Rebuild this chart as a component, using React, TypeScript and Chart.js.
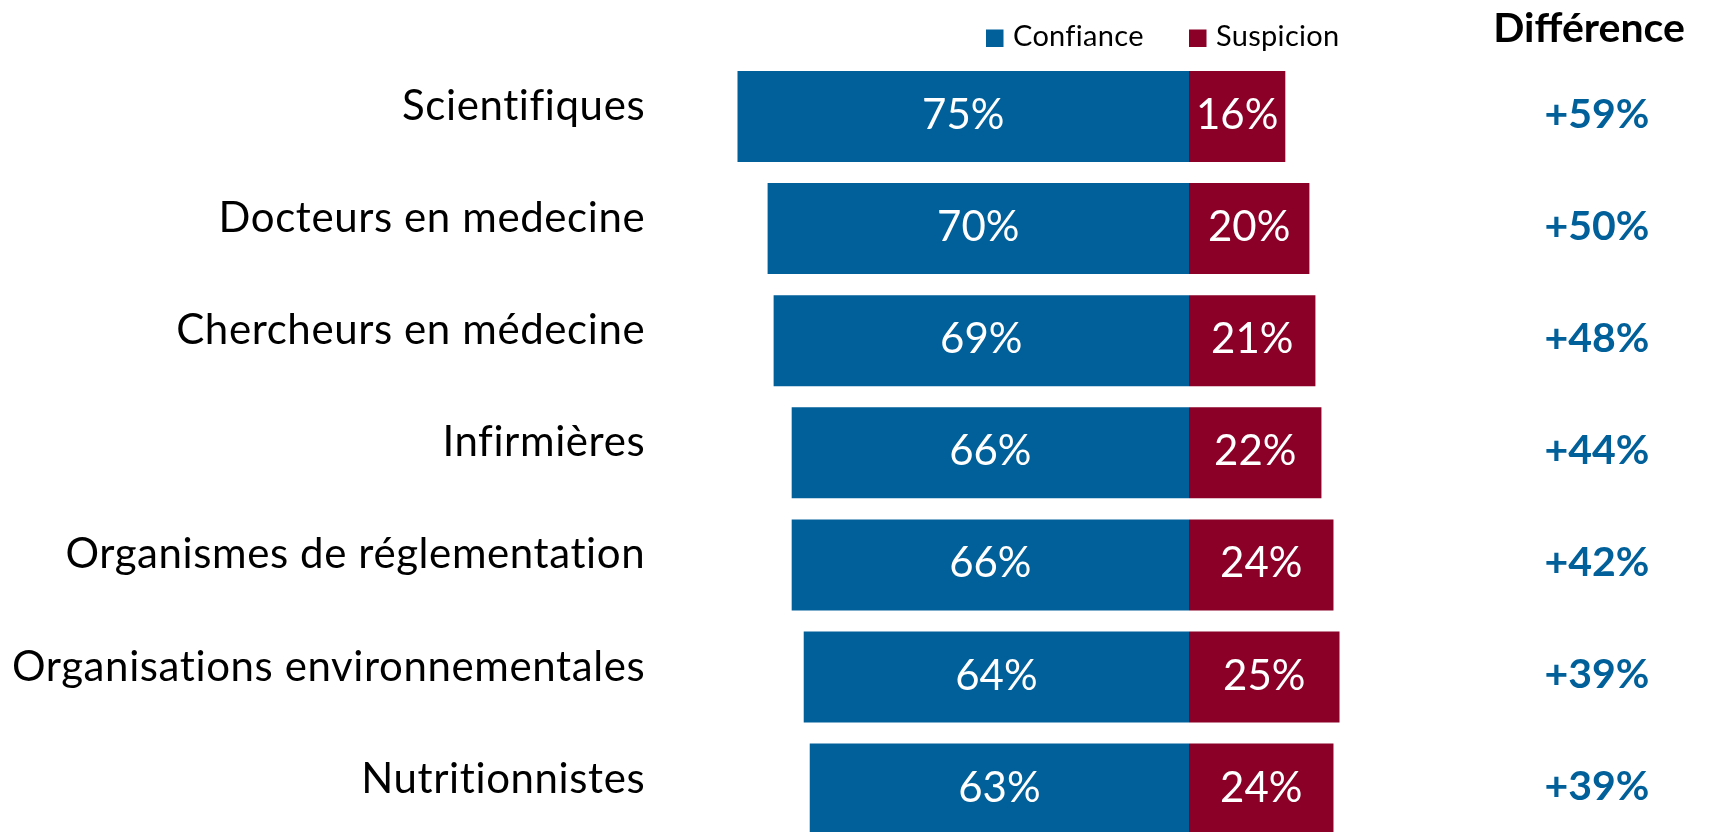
import { useEffect, useRef } from "react";
import { Chart, registerables } from "chart.js";

Chart.register(...registerables);

const categories = [
  "Scientifiques",
  "Docteurs en medecine",
  "Chercheurs en médecine",
  "Infirmières",
  "Organismes de réglementation",
  "Organisations environnementales",
  "Nutritionnistes",
];
const confiance = [75, 70, 69, 66, 66, 64, 63];
const suspicion = [16, 20, 21, 22, 24, 25, 24];
const differences = ["+59%", "+50%", "+48%", "+44%", "+42%", "+39%", "+39%"];
const seriesNames = ["Confiance", "Suspicion"];
const headerLabel = "Différence";

const BLUE = "#01609A";
const RED = "#8A0027";
const FONT = "Lato, 'Noto Sans', sans-serif";

export default function App() {
  const ref = useRef<HTMLCanvasElement>(null);

  useEffect(() => {
    const canvas = ref.current;
    if (!canvas) return;
    const rawValues = [confiance, suspicion];

    const spacing = {
      id: "spacing",
      beforeDraw(chart: any) {
        (chart.ctx as any).letterSpacing = "0.6px";
      },
    };

    const overlay = {
      id: "overlay",
      afterDatasetsDraw(chart: any) {
        const ctx = chart.ctx as CanvasRenderingContext2D;
        ctx.save();
        (ctx as any).letterSpacing = "0px";
        // value labels inside bars
        chart.data.datasets.forEach((_ds: any, di: number) => {
          const meta = chart.getDatasetMeta(di);
          meta.data.forEach((el: any, i: number) => {
            const p = el.getProps(["x", "base", "y"], true);
            ctx.fillStyle = "#ffffff";
            ctx.font = `42px ${FONT}`;
            ctx.textAlign = "center";
            ctx.textBaseline = "middle";
            ctx.fillText(rawValues[di][i] + "%", (p.x + p.base) / 2, p.y - 1);
          });
        });
        // difference column
        const yScale = chart.scales.y;
        ctx.fillStyle = BLUE;
        ctx.font = `bold 41px ${FONT}`;
        ctx.textAlign = "center";
        ctx.textBaseline = "middle";
        differences.forEach((d, i) => {
          ctx.fillText(d, 1597, yScale.getPixelForValue(i) - 2);
        });
        // header
        ctx.fillStyle = "#000000";
        ctx.font = `bold 41px ${FONT}`;
        ctx.textBaseline = "alphabetic";
        ctx.fillText(headerLabel, 1589, 42);
        // legend
        const legendX = [986, 1189];
        (ctx as any).letterSpacing = "0.3px";
        ctx.font = `29px ${FONT}`;
        ctx.textAlign = "left";
        chart.data.datasets.forEach((ds: any, di: number) => {
          ctx.fillStyle = ds.backgroundColor;
          ctx.fillRect(legendX[di], 29.5, 17.5, 17.5);
          ctx.fillStyle = "#000000";
          ctx.fillText(ds.label, legendX[di] + 27, 46);
        });
        ctx.restore();
      },
    };

    const chart = new Chart(canvas, {
      type: "bar",
      data: {
        labels: categories,
        datasets: [
          {
            label: seriesNames[0],
            data: confiance.map((v) => -v),
            backgroundColor: BLUE,
            borderWidth: 0,
            barPercentage: 0.812,
            categoryPercentage: 1,
            stack: "s",
          },
          {
            label: seriesNames[1],
            data: suspicion,
            backgroundColor: RED,
            borderWidth: 0,
            barPercentage: 0.812,
            categoryPercentage: 1,
            stack: "s",
          },
        ],
      },
      options: {
        indexAxis: "y",
        responsive: false,
        animation: false,
        layout: { padding: { left: 0, right: 312.3, top: 60.45, bottom: 4.85 } },
        plugins: {
          legend: { display: false },
          tooltip: { enabled: false },
        },
        scales: {
          x: {
            display: false,
            stacked: true,
            min: -90,
            max: 35,
          },
          y: {
            stacked: true,
            grid: { display: false, drawTicks: false },
            border: { display: false },
            ticks: {
              color: "#000000",
              font: { family: FONT, size: 42 },
              padding: 2,
              labelOffset: -10,
              autoSkip: false,
            },
            afterFit(scale: any) {
              scale.width = 647.2;
              scale.paddingTop = 0;
              scale.paddingBottom = 0;
            },
          },
        },
      },
      plugins: [spacing, overlay],
    } as any);

    return () => chart.destroy();
  }, []);

  return (
    <div
      style={{
        position: "fixed",
        left: 0,
        top: 0,
        width: 1712,
        height: 832,
        overflow: "hidden",
        background: "#ffffff",
      }}
    >
      <canvas ref={ref} width={1712} height={850} style={{ display: "block" }} />
    </div>
  );
}
